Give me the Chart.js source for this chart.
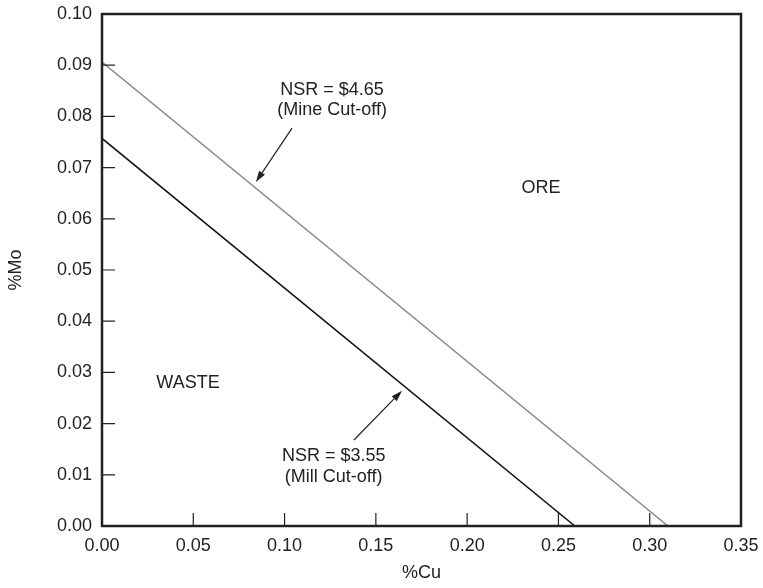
<!DOCTYPE html>
<html>
<head>
<meta charset="utf-8">
<script src="https://cdn.jsdelivr.net/npm/chart.js@4.4.1/dist/chart.umd.min.js"></script>
<style>
html,body{margin:0;padding:0;background:#fff;}
#wrap{width:763px;height:588px;position:relative;}
</style>
</head>
<body>
<div id="wrap"><canvas id="c" width="763" height="588"></canvas></div>
<script>
// Data
const mineCutoffLine = [{x: 0, y: 0.0906}, {x: 0.31, y: 0}];   // NSR = $4.65
const millCutoffLine = [{x: 0, y: 0.0757}, {x: 0.259, y: 0}];  // NSR = $3.55
const xTickValues = [0, 0.05, 0.10, 0.15, 0.20, 0.25, 0.30, 0.35];
const yTickValues = [0, 0.01, 0.02, 0.03, 0.04, 0.05, 0.06, 0.07, 0.08, 0.09, 0.10];
const labels = [
  {text: 'NSR = $4.65', x: 0.126, y: 0.0852},
  {text: '(Mine Cut-off)', x: 0.126, y: 0.0813},
  {text: 'ORE', x: 0.2405, y: 0.0660},
  {text: 'WASTE', x: 0.0471, y: 0.0279},
  {text: 'NSR = $3.55', x: 0.1269, y: 0.01367},
  {text: '(Mill Cut-off)', x: 0.1269, y: 0.00963}
];
const arrows = [
  {from: {x: 0.1041, y: 0.0777}, to: {x: 0.0843, y: 0.0672}},
  {from: {x: 0.138, y: 0.0168}, to: {x: 0.1643, y: 0.0264}}
];

const FONT = "'Liberation Sans', Arial, Helvetica, sans-serif";
const TXT = '#222';

const overlay = {
  id: 'overlay',
  afterDraw(chart) {
    const ctx = chart.ctx;
    const xs = chart.scales.x, ys = chart.scales.y;
    const a = chart.chartArea;
    ctx.save();
    // inside ticks
    ctx.strokeStyle = '#222';
    ctx.lineWidth = 1.2;
    ctx.beginPath();
    xTickValues.forEach(v => {
      const px = xs.getPixelForValue(v);
      ctx.moveTo(px, a.bottom);
      ctx.lineTo(px, a.bottom - 13);
    });
    yTickValues.forEach(v => {
      const py = ys.getPixelForValue(v);
      ctx.moveTo(a.left, py);
      ctx.lineTo(a.left + 13, py);
    });
    ctx.stroke();
    // frame
    ctx.lineWidth = 2.5;
    ctx.strokeStyle = '#222';
    ctx.strokeRect(a.left, a.top, a.right - a.left, a.bottom - a.top);
    // arrows
    ctx.lineWidth = 1.2;
    ctx.fillStyle = '#222';
    arrows.forEach(ar => {
      const x1 = xs.getPixelForValue(ar.from.x), y1 = ys.getPixelForValue(ar.from.y);
      const x2 = xs.getPixelForValue(ar.to.x), y2 = ys.getPixelForValue(ar.to.y);
      const ang = Math.atan2(y2 - y1, x2 - x1);
      const hl = 11, hw = 3.5;
      const bx = x2 - hl * Math.cos(ang), by = y2 - hl * Math.sin(ang);
      ctx.beginPath();
      ctx.moveTo(x1, y1);
      ctx.lineTo(bx, by);
      ctx.stroke();
      ctx.beginPath();
      ctx.moveTo(x2, y2);
      ctx.lineTo(bx + hw * Math.sin(ang), by - hw * Math.cos(ang));
      ctx.lineTo(bx - hw * Math.sin(ang), by + hw * Math.cos(ang));
      ctx.closePath();
      ctx.fill();
    });
    // labels
    ctx.font = '18px ' + FONT;
    ctx.fillStyle = TXT;
    ctx.textAlign = 'center';
    ctx.textBaseline = 'middle';
    labels.forEach(l => {
      ctx.fillText(l.text, xs.getPixelForValue(l.x), ys.getPixelForValue(l.y));
    });
    ctx.restore();
  }
};

new Chart(document.getElementById('c'), {
  type: 'scatter',
  data: {
    datasets: [
      {label: 'NSR = $4.65', data: mineCutoffLine, showLine: true, borderColor: '#8a8a8a', borderWidth: 1.5, pointRadius: 0, fill: false},
      {label: 'NSR = $3.55', data: millCutoffLine, showLine: true, borderColor: '#111', borderWidth: 1.5, pointRadius: 0, fill: false}
    ]
  },
  options: {
    responsive: false,
    animation: false,
    layout: {padding: {left: 0, right: 22, top: 14, bottom: 0}},
    plugins: {legend: {display: false}, tooltip: {enabled: false}},
    scales: {
      x: {
        type: 'linear', min: 0, max: 0.35,
        afterBuildTicks: s => { s.ticks = xTickValues.map(v => ({value: v})); },
        afterFit: s => { s.height = 62; },
        ticks: {color: TXT, font: {size: 18, family: FONT}, padding: 1,
          callback: v => v.toFixed(2), maxRotation: 0, autoSkip: false},
        grid: {display: false},
        border: {display: false},
        title: {display: true, text: '%Cu', color: TXT, font: {size: 18, family: FONT}, padding: {top: 0, bottom: 4}}
      },
      y: {
        type: 'linear', min: 0, max: 0.10,
        afterBuildTicks: s => { s.ticks = yTickValues.map(v => ({value: v})); },
        afterFit: s => { s.width = 102; },
        ticks: {color: TXT, font: {size: 18, family: FONT}, padding: 2,
          callback: v => v.toFixed(2), autoSkip: false},
        grid: {display: false},
        border: {display: false},
        title: {display: true, text: '%Mo', color: TXT, font: {size: 18, family: FONT}, padding: {top: 5, bottom: 0}}
      }
    }
  },
  plugins: [overlay]
});
</script>
</body>
</html>
